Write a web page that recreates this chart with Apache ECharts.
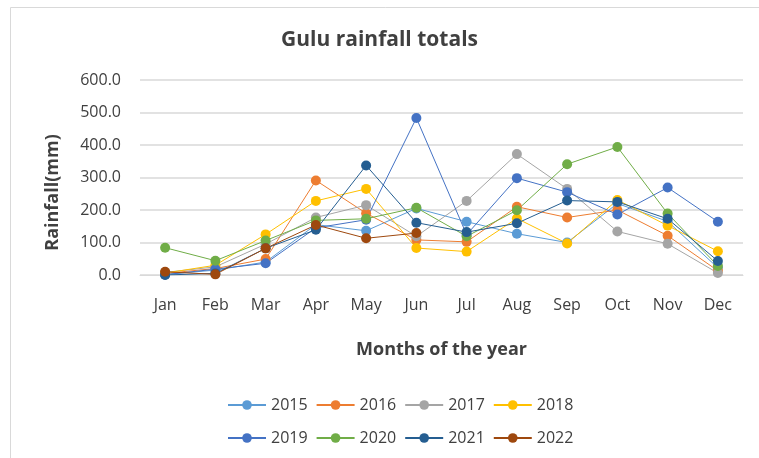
<!DOCTYPE html>
<html>
<head>
<meta charset="utf-8">
<script src="https://cdn.jsdelivr.net/npm/echarts@6/dist/echarts.min.js"></script>
<style>
  html, body { margin: 0; padding: 0; background: #fff; }
  #main { width: 759px; height: 458px; }
</style>
</head>
<body>
<div id="main"></div>
<script>
const months = ['Jan', 'Feb', 'Mar', 'Apr', 'May', 'Jun', 'Jul', 'Aug', 'Sep', 'Oct', 'Nov', 'Dec'];
const years = ['2015', '2016', '2017', '2018', '2019', '2020', '2021', '2022'];
const colors = ['#5B9BD5', '#ED7D31', '#A5A5A5', '#FFC000', '#4472C4', '#70AD47', '#255E91', '#9E480E'];

const r2015 = [2, 15, 40, 155, 136, 205, 164, 127, 100, 220, 165, 22];
const r2016 = [5, 20, 49, 291, 190, 108, 102, 210, 177, 200, 121, 13];
const r2017 = [8, 25, 95, 177, 215, 119, 228, 372, 265, 134, 96, 6];
const r2018 = [6, 30, 125, 228, 265, 83, 72, 174, 97, 231, 152, 73];
const r2019 = [1, 18, 36, 145, 170, 483, 124, 298, 255, 186, 269, 164];
const r2020 = [84, 44, 106, 168, 173, 207, 119, 199, 341, 394, 189, 28];
const r2021 = [0, 5, 82, 139, 337, 161, 132, 159, 229, 225, 173, 43];
const r2022 = [10, 2, 82, 154, 113, 129, null, null, null, null, null, null];
const rainfall = [r2015, r2016, r2017, r2018, r2019, r2020, r2021, r2022];

const font = '"Open Sans", "Noto Sans", sans-serif';
const chart = echarts.init(document.getElementById('main'));

const series = years.map((y, i) => ({
  name: y,
  type: 'line',
  data: rainfall[i],
  symbol: 'circle',
  symbolSize: 10,
  color: colors[i],
  lineStyle: { width: 1 },
  itemStyle: { color: colors[i] },
  emphasis: { disabled: true }
}));

const legendCommon = {
  left: 222,
  itemWidth: 38,
  itemHeight: 12,
  itemGap: 8,
  textStyle: { fontFamily: font, fontSize: 16, color: '#404040' }
};

chart.setOption({
  animation: false,
  textStyle: { fontFamily: font },
  title: {
    text: 'Gulu rainfall totals',
    left: 'center',
    top: 25,
    textStyle: { fontFamily: font, fontSize: 21, fontWeight: 'bold', color: '#404040' }
  },
  graphic: [{
    type: 'rect',
    shape: { x: 10.5, y: 7.5, width: 900, height: 600 },
    style: { fill: null, stroke: '#d9d9d9', lineWidth: 1 },
    silent: true
  }],
  legend: [
    Object.assign({ top: 392, data: years.slice(0, 4) }, legendCommon),
    Object.assign({ top: 425, data: years.slice(4) }, legendCommon)
  ],
  grid: { left: 140, right: 16, top: 80, bottom: 183 },
  xAxis: {
    type: 'category',
    data: months,
    boundaryGap: true,
    axisLine: { lineStyle: { color: '#d9d9d9', width: 1 } },
    axisTick: { show: false },
    axisLabel: { fontSize: 16, color: '#404040', margin: 22 },
    name: 'Months of the year',
    nameLocation: 'middle',
    nameGap: 66,
    nameTextStyle: { fontFamily: font, fontSize: 18, fontWeight: 'bold', color: '#404040' }
  },
  yAxis: {
    type: 'value',
    min: 0,
    max: 600,
    interval: 100,
    axisLine: { show: false },
    axisTick: { show: false },
    splitLine: { lineStyle: { color: '#d9d9d9', width: 1.5 } },
    axisLabel: {
      fontSize: 16,
      color: '#404040',
      margin: 19,
      formatter: v => v.toFixed(1)
    },
    name: 'Rainfall(mm)',
    nameLocation: 'middle',
    nameGap: 78,
    nameTextStyle: { fontFamily: font, fontSize: 18, fontWeight: 'bold', color: '#404040', padding: [0, 0, 0, -30] }
  },
  series: series
});
</script>
</body>
</html>
